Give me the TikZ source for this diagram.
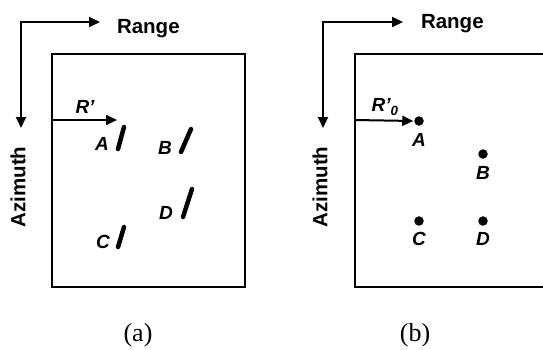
\documentclass[tikz,border=0pt]{standalone}
\usepackage{fontspec}
\setmainfont{Liberation Serif}
\setsansfont{Liberation Sans}
\usetikzlibrary{arrows.meta}

\begin{document}
\begin{tikzpicture}[x=1pt,y=-1pt,line width=2pt]
    \tikzset{
      axis/.style={-{Triangle[length=11pt,width=10pt]},line width=2pt},
      axes/.style={{Triangle[length=11pt,width=10pt]}-{Triangle[length=11pt,width=10pt]},line width=2pt},
      axlabel/.style={font=\sffamily\bfseries\fontsize{20.5}{22}\selectfont,inner sep=0pt},
      target/.style={font=\sffamily\bfseries\itshape\fontsize{19}{21}\selectfont,inner sep=0pt},
      smear/.style={line width=4.5pt,line cap=round},
      spot/.style={circle,fill,inner sep=0pt,minimum size=9.5pt},
      caption/.style={font=\rmfamily\fontsize{26}{28}\selectfont,inner sep=0pt}
    }
    \useasboundingbox (0,0) rectangle (543,349);

    % (a) unfocused image
    \draw (52,54) rectangle (245,287);
    \coordinate (cornera) at (21,22);
    \coordinate (rangea) at (100,22);
    \coordinate (azima) at (21,128);
    \draw[axes] (azima) -- (cornera) -- (rangea);
    \node[axlabel,anchor=base west] (rnga) at (116,33) {Range};
    \node[axlabel,rotate=90] (azia) at (18,187) {Azimuth};
    \coordinate (ra0) at (52,120);
    \coordinate (ra1) at (117,120);
    \draw[axis] (ra0) -- (ra1);
    \node[target] (rpa) at (85,107) {R'};
    \node[target] (la) at (102,144) {A};
    \node[target] (lb) at (165,148) {B};
    \node[target] (lc) at (103,242) {C};
    \node[target] (ld) at (166,213) {D};
    \draw[smear] (118,149) -- (124,127);
    \draw[smear] (181,152) -- (191,129);
    \draw[smear] (118,247) -- (124,227);
    \draw[smear] (183,217) -- (192,189);
    \node[caption] (capa) at (138,335) {(a)};

    % (b) focused image
    \draw (543,54) -- (355,54) -- (355,287) -- (543,287);
    \coordinate (cornerb) at (323,22);
    \coordinate (rangeb) at (403,22);
    \coordinate (azimb) at (323,128);
    \draw[axes] (azimb) -- (cornerb) -- (rangeb);
    \node[axlabel,anchor=base west] (rngb) at (420,28) {Range};
    \node[axlabel,rotate=90] (azib) at (320,187) {Azimuth};
    \node[spot] (pa) at (419,121) {};
    \node[spot] (pb) at (483,154) {};
    \node[spot] (pc) at (419,221) {};
    \node[spot] (pd) at (483,221) {};
    \node[target] (ma) at (419,140) {A};
    \node[target] (mb) at (483,173) {B};
    \node[target] (mc) at (419,239) {C};
    \node[target] (md) at (483,239) {D};
    \coordinate (rb0) at (355,120);
    \draw[axis] (rb0) -- (pa.west);
    \node[target] (rpb) at (385,107) {R'\textsubscript{0}};
    \node[caption] (capb) at (415,335) {(b)};
\end{tikzpicture}
\end{document}
